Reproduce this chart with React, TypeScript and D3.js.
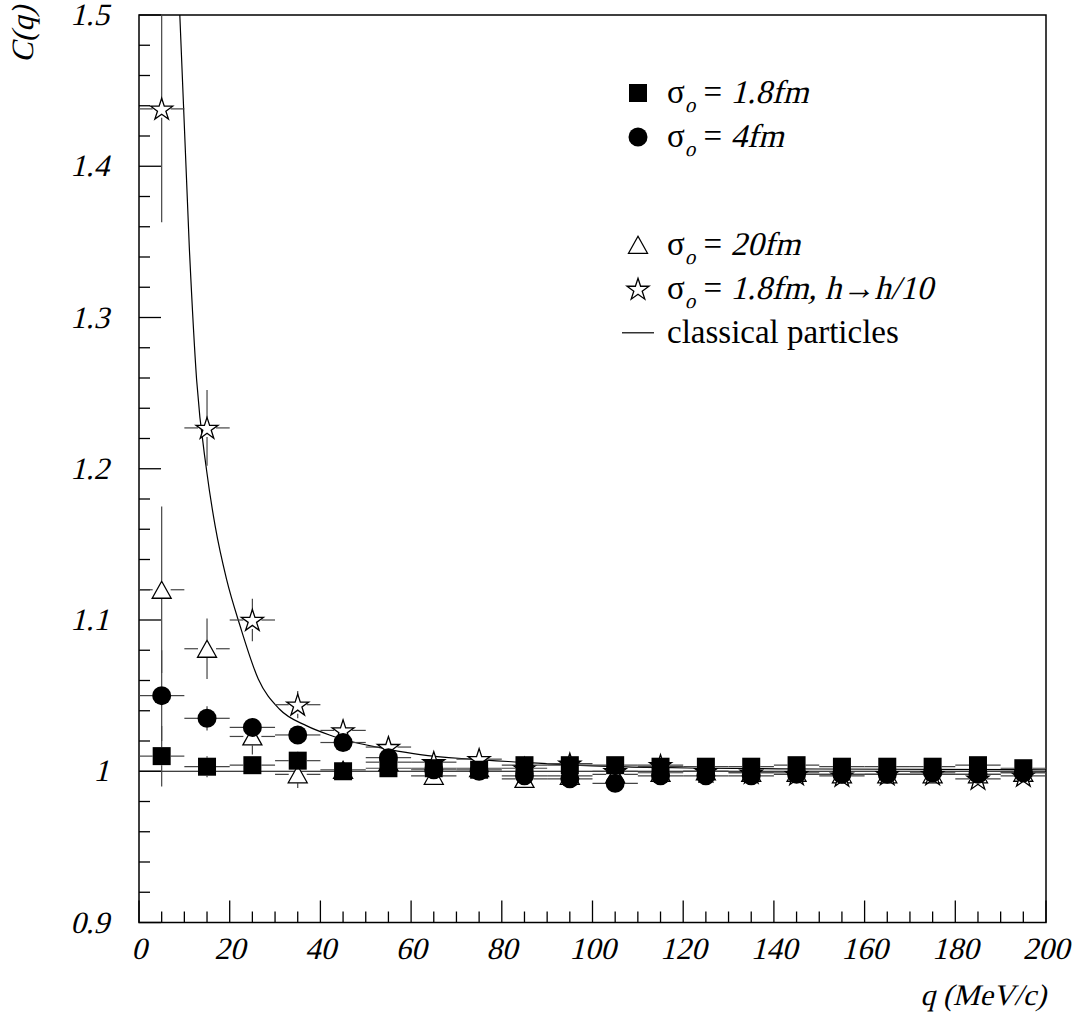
import React, { useEffect, useRef } from "react";
import * as d3 from "d3";

// bin centres (MeV/c) and half bin width
const qBins = [5, 15, 25, 35, 45, 55, 65, 75, 85, 95, 105, 115, 125, 135, 145, 155, 165, 175, 185, 195];
const binHalf = 5;

// sigma_o = 1.8 fm (squares)
const sq18 = [1.01, 1.003, 1.004, 1.007, 1.0, 1.002, 1.002, 1.001, 1.004, 1.004, 1.004, 1.003, 1.003, 1.003, 1.004, 1.003, 1.003, 1.003, 1.004, 1.002];
const sq18Err = [0.02, 0.007, 0.006, 0.006, 0.004, 0.003, 0.003, 0.003, 0.003, 0.003, 0.003, 0.003, 0.003, 0.003, 0.003, 0.003, 0.003, 0.003, 0.003, 0.003];

// sigma_o = 4 fm (circles)
const circ4 = [1.05, 1.035, 1.029, 1.024, 1.019, 1.009, 1.001, 1.0, 0.997, 0.995, 0.992, 0.997, 0.997, 0.997, 0.998, 0.998, 0.998, 0.999, 0.998, 0.999];
const circ4Err = [0.03, 0.008, 0.006, 0.005, 0.004, 0.003, 0.003, 0.003, 0.003, 0.003, 0.003, 0.003, 0.003, 0.003, 0.003, 0.003, 0.003, 0.003, 0.003, 0.003];

// sigma_o = 20 fm (open triangles)
const tri20 = [1.12, 1.081, 1.023, 0.998, 1.001, 1.006, 0.997, 1.002, 0.995, 0.997, 0.998, 0.999, 1.0, 0.999, 0.999, 0.998, 0.998, 0.998, 0.998, 0.999];
const tri20Err = [0.055, 0.02, 0.012, 0.009, 0.006, 0.004, 0.004, 0.004, 0.004, 0.004, 0.004, 0.004, 0.004, 0.004, 0.004, 0.004, 0.004, 0.004, 0.004, 0.004];

// sigma_o = 1.8 fm, h -> h/10 (open stars)
const starH = [1.438, 1.227, 1.1, 1.044, 1.027, 1.016, 1.006, 1.008, 1.002, 1.005, 1.0, 1.004, 1.0, 0.999, 0.998, 0.997, 0.998, 0.998, 0.995, 0.997];
const starHErr = [0.075, 0.025, 0.014, 0.009, 0.007, 0.006, 0.004, 0.004, 0.004, 0.004, 0.004, 0.004, 0.004, 0.004, 0.004, 0.004, 0.004, 0.004, 0.004, 0.004];

// classical particles curve
const classicalQ = [9, 11.1, 12.7, 14.9, 16.8, 19.3, 22.3, 26.3, 31, 37, 42, 47, 55, 62, 73, 84, 100, 125, 150, 200];
const classicalC = [1.5, 1.346, 1.259, 1.199, 1.162, 1.127, 1.096, 1.061, 1.041, 1.03, 1.024, 1.0195, 1.0145, 1.011, 1.008, 1.006, 1.0035, 1.002, 1.0015, 1.001];
const classicalFlat = 1;

const xMajor = [0, 20, 40, 60, 80, 100, 120, 140, 160, 180, 200];
const yMajor = [0.9, 1.0, 1.1, 1.2, 1.3, 1.4, 1.5];
const yLabels = ["0.9", "1", "1.1", "1.2", "1.3", "1.4", "1.5"];

const legendSigma = ["1.8fm", "4fm", "20fm", "1.8fm, h\u2192h/10"];
const legendLine = "classical particles";

const FONT = "'Liberation Serif', 'Times New Roman', serif";
const SKEW = -14;

// serif italic is faked by skewing the upright face
const addText = (g, x, y, str, size, italic, anchor = "start", extra = "") => {
  const t = g
    .append("text")
    .attr("transform", `translate(${x},${y})${extra}${italic ? ` skewX(${SKEW})` : ""}`)
    .attr("text-anchor", anchor)
    .style("font-family", FONT)
    .style("font-size", `${size}px`)
    .style("white-space", "pre")
    .text(str);
  return t.node().getComputedTextLength();
};

const App = () => {
  const ref = useRef(null);

  useEffect(() => {
    draw();
  }, []);

  const draw = () => {
    const W = 1076;
    const H = 1017;
    const left = 139;
    const right = 1046;
    const top = 15;
    const bottom = 922.5;

    d3.select(ref.current).select("svg").remove();
    const svg = d3
      .select(ref.current)
      .append("svg")
      .attr("width", W)
      .attr("height", H)
      .style("position", "absolute")
      .style("left", 0)
      .style("top", 0)
      .style("background", "#fff");

    const x = d3.scaleLinear().domain([0, 200]).range([left, right]);
    const y = d3.scaleLinear().domain([0.9, 1.5]).range([bottom, top]);

    svg
      .append("clipPath")
      .attr("id", "plotclip")
      .append("rect")
      .attr("x", left)
      .attr("y", top)
      .attr("width", right - left)
      .attr("height", bottom - top);

    // ticks (inward, left and bottom only)
    const yMinor = d3.range(0, 31).map((i) => 0.9 + i * 0.02);
    svg
      .append("g")
      .selectAll("line")
      .data(yMinor)
      .enter()
      .append("line")
      .attr("x1", left)
      .attr("x2", (d, i) => (i % 5 === 0 ? left + 22 : left + 11))
      .attr("y1", (d) => y(d))
      .attr("y2", (d) => y(d))
      .attr("stroke", "#000")
      .attr("stroke-width", 1.3);

    const xMinor = d3.range(0, 41).map((i) => i * 5);
    svg
      .append("g")
      .selectAll("line")
      .data(xMinor)
      .enter()
      .append("line")
      .attr("x1", (d) => x(d))
      .attr("x2", (d) => x(d))
      .attr("y1", bottom)
      .attr("y2", (d, i) => (i % 4 === 0 ? bottom - 22 : bottom - 11))
      .attr("stroke", "#000")
      .attr("stroke-width", 1.3);

    // frame
    svg
      .append("rect")
      .attr("x", left)
      .attr("y", top)
      .attr("width", right - left)
      .attr("height", bottom - top)
      .attr("fill", "none")
      .attr("stroke", "#000")
      .attr("stroke-width", 1.5);

    // tick labels
    const labels = svg.append("g");
    yMajor.forEach((d, i) => addText(labels, left - 30, y(d) + 10, yLabels[i], 31, true, "end"));
    xMajor.forEach((d) => addText(labels, x(d), 959, String(d), 31, true, "middle"));

    // axis titles
    addText(labels, 0, 0, "C(q)", 31, true, "end", " translate(33,6) rotate(-90)");
    addText(labels, right, 1005, "q (MeV/c)", 30, true, "end");

    const plot = svg.append("g").attr("clip-path", "url(#plotclip)");

    // classical particles
    plot
      .append("line")
      .attr("x1", x(0))
      .attr("x2", x(200))
      .attr("y1", y(classicalFlat))
      .attr("y2", y(classicalFlat))
      .attr("stroke", "#000")
      .attr("stroke-width", 1.2);

    const curve = d3
      .line()
      .x((d) => x(d[0]))
      .y((d) => y(d[1]))
      .curve(d3.curveMonotoneX);
    plot
      .append("path")
      .attr("d", curve(classicalQ.map((q, i) => [q, classicalC[i]])))
      .attr("fill", "none")
      .attr("stroke", "#000")
      .attr("stroke-width", 1.2);

    const triPath = "M0,-8.5L9.5,8.5L-9.5,8.5Z";
    const starPath = d3.symbol().type(d3.symbolStar).size(150)();

    const drawMarker = (g, kind, cx, cy) => {
      if (kind === "square") {
        g.append("rect")
          .attr("x", cx - 9)
          .attr("y", cy - 9)
          .attr("width", 18)
          .attr("height", 18)
          .attr("fill", "#000");
      } else if (kind === "circle") {
        g.append("circle").attr("cx", cx).attr("cy", cy).attr("r", 9.5).attr("fill", "#000");
      } else if (kind === "triangle") {
        g.append("path")
          .attr("d", triPath)
          .attr("transform", `translate(${cx},${cy})`)
          .attr("fill", "#fff")
          .attr("stroke", "#000")
          .attr("stroke-width", 1.3);
      } else {
        g.append("path")
          .attr("d", starPath)
          .attr("transform", `translate(${cx},${cy + 1})`)
          .attr("fill", "#fff")
          .attr("stroke", "#000")
          .attr("stroke-width", 1.3);
      }
    };

    const gap = 9;
    const drawSeries = (vals, errs, kind) => {
      const g = plot.append("g");
      vals.forEach((v, i) => {
        const q = qBins[i];
        const cx = x(q);
        const cy = y(v);
        const segs = [
          [x(q - binHalf), cy, cx - gap, cy],
          [cx + gap, cy, x(q + binHalf), cy],
        ];
        const yt = y(v + errs[i]);
        const yb = y(v - errs[i]);
        if (cy - yt > gap) segs.push([cx, yt, cx, cy - gap]);
        if (yb - cy > gap) segs.push([cx, cy + gap, cx, yb]);
        segs.forEach((s) => {
          g.append("line")
            .attr("x1", s[0])
            .attr("y1", s[1])
            .attr("x2", s[2])
            .attr("y2", s[3])
            .attr("stroke", "#444")
            .attr("stroke-width", 1.2);
        });
      });
      vals.forEach((v, i) => drawMarker(g, kind, x(qBins[i]), y(v)));
    };

    drawSeries(tri20, tri20Err, "triangle");
    drawSeries(starH, starHErr, "star");
    drawSeries(circ4, circ4Err, "circle");
    drawSeries(sq18, sq18Err, "square");

    // legend
    const kinds = ["square", "circle", "triangle", "star"];
    const slots = [0, 1, 3.45, 4.45, 5.45];
    const lg = svg.append("g");
    const rowY = (k) => 103 + slots[k] * 44;
    legendSigma.forEach((lab, k) => {
      const by = rowY(k);
      drawMarker(lg, kinds[k], 638, by - 10);
      let cx = 667;
      cx += addText(lg, cx, by, "\u03c3", 33, false);
      cx += addText(lg, cx, by + 9, "o", 21, true);
      cx += addText(lg, cx, by, "\u00a0=\u00a0", 33, false);
      addText(lg, cx, by, lab, 33, true);
    });
    lg.append("line")
      .attr("x1", 622)
      .attr("x2", 654)
      .attr("y1", rowY(4) - 10)
      .attr("y2", rowY(4) - 10)
      .attr("stroke", "#000")
      .attr("stroke-width", 1.2);
    addText(lg, 667, rowY(4), legendLine, 33, false);
  };

  return <div ref={ref}></div>;
};

export default App;
